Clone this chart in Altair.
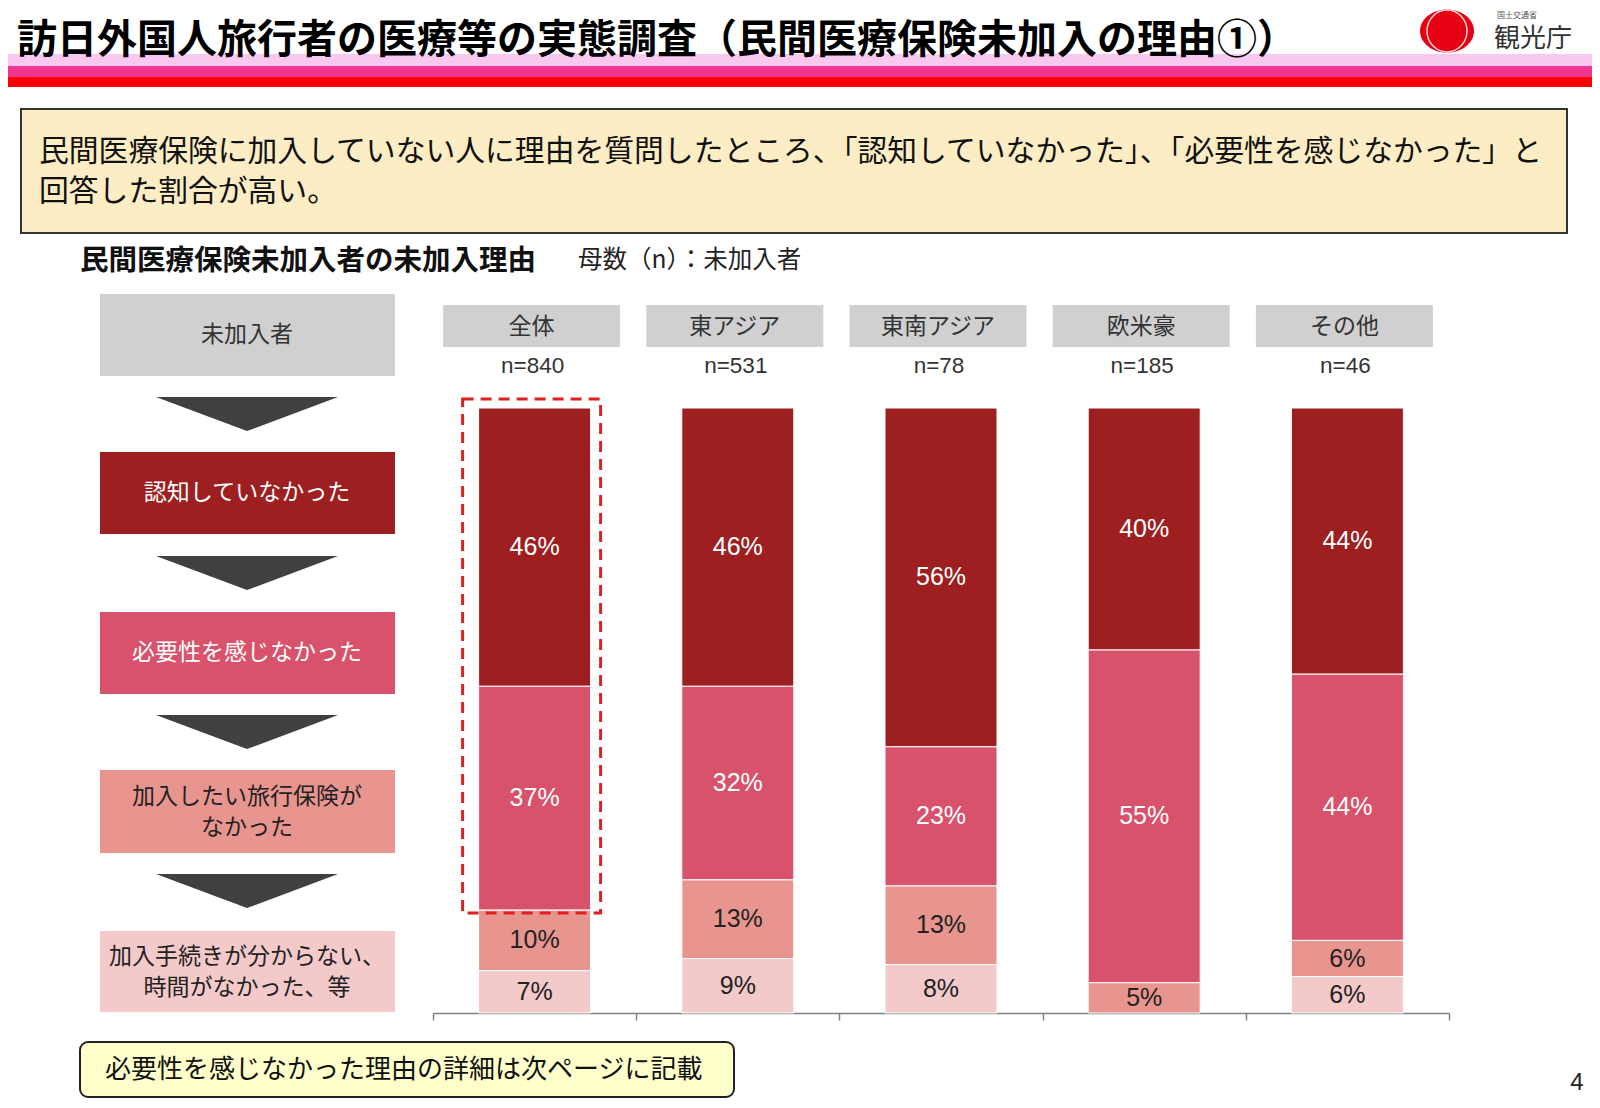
import altair as alt
import pandas as pd

# ---------------- data ----------------
regions = ['全体', '東アジア', '東南アジア', '欧米豪', 'その他']
n_values = [840, 531, 78, 185, 46]
reasons = ['認知していなかった', '必要性を感じなかった',
           '加入したい旅行保険がなかった', '加入手続きが分からない、時間がなかった、等']
pct_unaware = [46, 46, 56, 40, 44]
pct_no_need = [37, 32, 23, 55, 44]
pct_no_plan = [10, 13, 13, 5, 6]
pct_procedure = [7, 9, 8, None, 6]
reason_colors = ['#9E1F20', '#D9526B', '#E8958F', '#F3C9CA']

rows = []
for ri, series in enumerate([pct_unaware, pct_no_need, pct_no_plan, pct_procedure]):
    for g, v in zip(regions, series):
        if v is not None:
            rows.append({'region': g, 'reason': reasons[ri], 'rank': 3 - ri, 'pct': v})
df = pd.DataFrame(rows)
hdr = pd.DataFrame({'region': regions, 'n': n_values})

JP = 'Noto Sans CJK JP'
NUM = 'Liberation Sans, Arial'
M = 8  # page margin

one = pd.DataFrame({'k': [0]})


def box(x1, y1, x2, y2, **kw):
    return alt.Chart(one).mark_rect(**kw).encode(
        x=alt.value(x1 - M), x2=alt.value(x2 - M), y=alt.value(y1 - M), y2=alt.value(y2 - M))


def label(x, y, t, size, color='#222', weight='normal', align='center', font=JP):
    return alt.Chart(one).mark_text(text=t, fontSize=size, color=color, fontWeight=weight,
                                    align=align, baseline='middle', font=font).encode(
        x=alt.value(x - M), y=alt.value(y - M))


def tri(cx, cy, w, h, color='#404040'):
    hr = h / w
    return alt.Chart(one).mark_point(shape=f'M-1,{-hr:.4f} L1,{-hr:.4f} L0,{hr:.4f} Z',
                                     size=w * w, filled=True, color=color, opacity=1,
                                     strokeWidth=0).encode(
        x=alt.value(cx - M), y=alt.value(cy - M))


def ell(cx, cy, w, ry_ratio, **kw):
    shape = f'M-1,0 A1,{ry_ratio} 0 1,1 1,0 A1,{ry_ratio} 0 1,1 -1,0 Z'
    return alt.Chart(one).mark_point(shape=shape, size=w * w, **kw).encode(
        x=alt.value(cx - M), y=alt.value(cy - M))


layers = []

# header bands
layers += [
    box(0, 54, 1600, 66, color='#F8C8F0'),
    box(0, 66, 1600, 77, color='#F0348F'),
    box(0, 77, 1600, 87, color='#FF0000'),
    label(17, 41, '訪日外国人旅行者の医療等の実態調査（民間医療保険未加入の理由①）', 40,
          color='#000', weight='bold', align='left'),
]
# logo
layers += [
    ell(1447, 31, 54, 0.8, filled=True, color='#E60012', opacity=1, strokeWidth=0),
    ell(1447, 31, 40, 1.05, filled=False, color='#FFD8D8', opacity=1, strokeWidth=1.5),
    label(1497, 16, '国土交通省', 8, color='#555', align='left'),
    label(1494, 39, '観光庁', 26, color='#333', align='left'),
]
# summary box
layers += [
    box(21, 109, 1567, 233, fill='#FCEDC4', stroke='#333', strokeWidth=2),
    label(39, 152, '民間医療保険に加入していない人に理由を質問したところ、「認知していなかった」、「必要性を感じなかった」と',
          29.8, color='#111', align='left'),
    label(39, 192, '回答した割合が高い。', 29.8, color='#111', align='left'),
    label(80, 261, '民間医療保険未加入者の未加入理由', 28.5, color='#111', weight='bold', align='left'),
    label(578, 261, '母数（n）：未加入者', 24.5, color='#222', align='left'),
]
# left flow boxes
layers += [
    box(100, 294, 395, 376, color='#D0D0D0'),
    label(247, 335, '未加入者', 23, color='#333'),
    tri(247, 414, 182, 34),
    box(100, 452, 395, 534, color=reason_colors[0]),
    label(247, 493, '認知していなかった', 23, color='white'),
    tri(247, 573, 182, 34),
    box(100, 612, 395, 694, color=reason_colors[1]),
    label(247, 653, '必要性を感じなかった', 23, color='white'),
    tri(247, 732, 182, 34),
    box(100, 770, 395, 853, color=reason_colors[2]),
    label(247, 797, '加入したい旅行保険が', 23, color='#222'),
    label(247, 828, 'なかった', 23, color='#222'),
    tri(247, 891, 182, 34),
    box(100, 931, 395, 1012, color=reason_colors[3]),
    label(247, 957, '加入手続きが分からない、', 23, color='#222'),
    label(247, 988, '時間がなかった、等', 23, color='#222'),
]

# ---------------- chart through scales ----------------
xscale = alt.Scale(domain=regions, range=[433 - M, 1449 - M], paddingInner=0, paddingOuter=0)
xaxis = alt.Axis(title=None, labels=False, grid=False, tickBand='extent', tickSize=7,
                 tickColor='#808080', domainColor='#808080', domainWidth=1.5, tickWidth=1.5)
xenc = alt.X('region:N', scale=xscale, axis=xaxis, sort=regions)
yscale = alt.Scale(domain=[0, 100], range=[1013 - M, 408 - M], nice=False, zero=True)

hbase = alt.Chart(hdr).transform_calculate(nlabel="'n=' + datum.n")
layers += [
    hbase.mark_bar(width=177, color='#D0D0D0', xOffset=-3).encode(
        x=xenc, y=alt.value(305 - M), y2=alt.value(347 - M)),
    hbase.mark_text(fontSize=23, font=JP, color='#333', baseline='middle', dx=-3).encode(
        x=xenc, y=alt.value(327 - M), text='region:N'),
    hbase.mark_text(fontSize=22.5, font=NUM, color='#333', baseline='middle', dx=-2).encode(
        x=xenc, y=alt.value(366 - M), text='nlabel:N'),
]

base = alt.Chart(df).transform_stack(
    stack='pct', groupby=['region'], as_=['y0', 'y1'], sort=[alt.SortField('rank', order='ascending')]
).transform_calculate(mid='(datum.y0 + datum.y1) / 2', label="datum.pct + '%'")

layers += [
    base.mark_bar(width=112, stroke='white', strokeWidth=1).encode(
        x=xenc,
        y=alt.Y('y0:Q', scale=yscale, axis=None),
        y2='y1:Q',
        color=alt.Color('reason:N', scale=alt.Scale(domain=reasons, range=reason_colors), legend=None),
    ),
    base.mark_text(fontSize=25, font=NUM, baseline='middle').encode(
        x=xenc,
        y=alt.Y('mid:Q', scale=yscale, axis=None),
        text='label:N',
        color=alt.condition('datum.rank >= 2', alt.value('white'), alt.value('#222')),
    ),
    alt.Chart(pd.DataFrame({'region': [regions[0]]})).mark_bar(
        width=138, xOffset=-3, fillOpacity=0, stroke='#E02020', strokeWidth=3, strokeDash=[11, 7]).encode(
        x=xenc, y=alt.value(399 - M), y2=alt.value(913 - M)),
]

# bottom note & page number
layers += [
    box(80, 1042, 734, 1097, fill='#FFFFCC', stroke='#222', strokeWidth=2, cornerRadius=8),
    label(105, 1070, '必要性を感じなかった理由の詳細は次ページに記載', 26, color='#111', align='left'),
    label(1577, 1083, '4', 24, color='#222', font='Liberation Sans, Arial'),
]

chart = alt.layer(*layers).properties(
    width=1584, height=1013 - M,
    padding={'left': 0, 'top': 0, 'right': 0, 'bottom': 95},
    autosize=alt.AutoSizeParams(type='none'),
).configure_view(stroke=None)

chart.save('out.html', embed_options={'renderer': 'svg', 'actions': False})
